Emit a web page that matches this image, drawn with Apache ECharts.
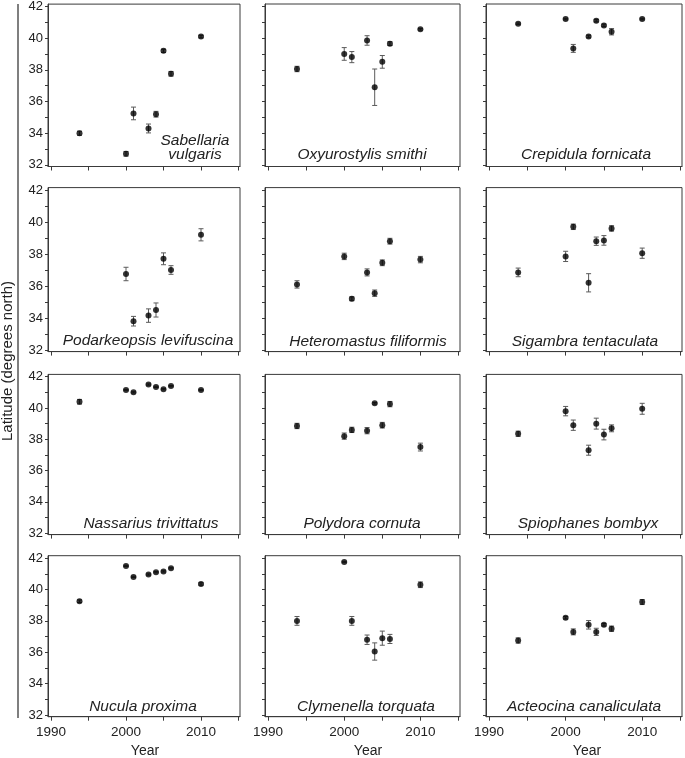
<!DOCTYPE html>
<html>
<head>
<meta charset="utf-8">
<script src="https://cdn.jsdelivr.net/npm/echarts@6/dist/echarts.min.js"></script>
<style>html,body{margin:0;padding:0;background:#fff}#c{width:685px;height:758px}</style>
</head>
<body>
<div id="c"></div>
<script>
// ---- data ----
const years = [1993.8, 2000, 2001, 2003, 2004, 2005, 2006, 2010];
const species = [
  "Sabellaria\nvulgaris", "Oxyurostylis smithi", "Crepidula fornicata",
  "Podarkeopsis levifuscina", "Heteromastus filiformis", "Sigambra tentaculata",
  "Nassarius trivittatus", "Polydora cornuta", "Spiophanes bombyx",
  "Nucula proxima", "Clymenella torquata", "Acteocina canaliculata"
];
const latSabellaria   = [34.0, 32.7, 35.25, 34.3, 35.2, 39.2, 37.75, 40.1];
const errSabellaria   = [0.13, 0.15, 0.4, 0.28, 0.18, 0.1, 0.15, 0.08];
const latOxyurostylis = [38.05, 39.0, 38.8, 39.85, 36.9, 38.5, 39.65, 40.55];
const errOxyurostylis = [0.17, 0.4, 0.35, 0.3, 1.15, 0.4, 0.12, 0.05];
const latCrepidula    = [40.9, 41.2, 39.35, 40.1, 41.1, 40.8, 40.4, 41.2];
const errCrepidula    = [0.05, 0.05, 0.25, 0.08, 0.08, 0.08, 0.2, 0.05];
const latPodarkeopsis = [null, 36.75, 33.8, 34.15, 34.5, 37.7, 37.0, 39.2];
const errPodarkeopsis = [null, 0.42, 0.3, 0.42, 0.44, 0.37, 0.27, 0.38];
const latHeteromastus = [36.1, 37.85, 35.2, 36.85, 35.55, 37.45, 38.8, 37.65];
const errHeteromastus = [0.23, 0.2, 0.12, 0.22, 0.2, 0.18, 0.18, 0.2];
const latSigambra     = [36.85, 37.85, 39.7, 36.2, 38.8, 38.85, 39.6, 38.05];
const errSigambra     = [0.27, 0.32, 0.17, 0.57, 0.26, 0.3, 0.17, 0.32];
const latNassarius    = [40.4, 41.15, 41.0, 41.5, 41.35, 41.2, 41.4, 41.15];
const errNassarius    = [0.15, 0.04, 0.04, 0.04, 0.04, 0.04, 0.04, 0.04];
const latPolydora     = [38.85, 38.2, 38.6, 38.55, 40.3, 38.9, 40.25, 37.5];
const errPolydora     = [0.17, 0.2, 0.17, 0.2, 0.05, 0.18, 0.17, 0.25];
const latSpiophanes   = [38.35, 39.8, 38.9, 37.3, 39.0, 38.3, 38.7, 39.95];
const errSpiophanes   = [0.17, 0.3, 0.33, 0.32, 0.35, 0.34, 0.22, 0.35];
const latNucula       = [39.25, 41.5, 40.8, 40.95, 41.1, 41.15, 41.35, 40.35];
const errNucula       = [0.08, 0.04, 0.04, 0.04, 0.04, 0.04, 0.04, 0.08];
const latClymenella   = [38.0, 41.75, 38.0, 36.8, 36.05, 36.9, 36.85, 40.3];
const errClymenella   = [0.28, 0.04, 0.28, 0.3, 0.55, 0.45, 0.29, 0.18];
const latActeocina    = [36.75, 38.2, 37.3, 37.75, 37.3, 37.75, 37.5, 39.2];
const errActeocina    = [0.17, 0.08, 0.19, 0.27, 0.23, 0.08, 0.17, 0.16];
const xTicks = [1990, 1995, 2000, 2005, 2010, 2015];
const xLabels = [1990, 2000, 2010];
const yTicks = [32, 33, 34, 35, 36, 37, 38, 39, 40, 41, 42];
const yLabels = [32, 34, 36, 38, 40, 42];
const yTitle = "Latitude (degrees north)";
const xTitle = "Year";

const lats = [latSabellaria, latOxyurostylis, latCrepidula, latPodarkeopsis, latHeteromastus, latSigambra,
              latNassarius, latPolydora, latSpiophanes, latNucula, latClymenella, latActeocina];
const errs = [errSabellaria, errOxyurostylis, errCrepidula, errPodarkeopsis, errHeteromastus, errSigambra,
              errNassarius, errPolydora, errSpiophanes, errNucula, errClymenella, errActeocina];

// ---- layout ----
const FONT = "'Liberation Sans', Arial, sans-serif";
const cols = [{left: 48, width: 192}, {left: 265, width: 195}, {left: 486, width: 196}];
const rows = [{top: 4, height: 162.5}, {top: 187.6, height: 164}, {top: 374.4, height: 160.2}, {top: 555.7, height: 161}];
const AX = '#3a3a3a';

const grids = [], xAxes = [], yAxes = [], series = [], graphics = [];
for (let i = 0; i < 12; i++) {
  const r = Math.floor(i / 3), c = i % 3;
  grids.push({left: cols[c].left, top: rows[r].top, width: cols[c].width, height: rows[r].height,
    show: true, borderColor: AX, borderWidth: 1, backgroundColor: 'transparent'});
  xAxes.push({type: 'value', gridIndex: i, min: 1989.6, max: 2015.2,
    axisLine: {show: true, lineStyle: {color: AX, width: 1}},
    axisTick: {show: true, length: 4, customValues: xTicks, lineStyle: {color: AX}},
    axisLabel: {show: r === 3, customValues: xLabels, margin: 9, fontSize: 13.5, color: '#222', fontFamily: FONT,
      formatter: v => String(Math.round(v))},
    splitLine: {show: false}});
  yAxes.push({type: 'value', gridIndex: i, min: 31.9, max: 42.15,
    axisLine: {show: true, lineStyle: {color: AX, width: 1}},
    axisTick: {show: true, length: 3, customValues: yTicks, lineStyle: {color: AX}},
    axisLabel: {show: c === 0, customValues: yLabels, margin: 5, fontSize: 13, color: '#222', fontFamily: FONT,
      formatter: v => String(Math.round(v))},
    splitLine: {show: false}});
  const pts = [], bars = [];
  years.forEach((y, k) => {
    if (lats[i][k] == null) return;
    pts.push([y, lats[i][k]]);
    bars.push([y, lats[i][k], errs[i][k]]);
  });
  series.push({type: 'custom', xAxisIndex: i, yAxisIndex: i, data: bars, silent: true, z: 2,
    renderItem: function (params, api) {
      const x = api.value(0), v = api.value(1), e = api.value(2);
      const t = api.coord([x, v + e]), b = api.coord([x, v - e]);
      const cw = 2.5, st = {stroke: '#5a5a5a', lineWidth: 1};
      return {type: 'group', children: [
        {type: 'line', shape: {x1: t[0], y1: t[1], x2: b[0], y2: b[1]}, style: st},
        {type: 'line', shape: {x1: t[0] - cw, y1: t[1], x2: t[0] + cw, y2: t[1]}, style: st},
        {type: 'line', shape: {x1: b[0] - cw, y1: b[1], x2: b[0] + cw, y2: b[1]}, style: st}
      ]};
    }});
  series.push({type: 'scatter', xAxisIndex: i, yAxisIndex: i, data: pts, symbol: 'circle', symbolSize: 6,
    itemStyle: {color: '#000'}, z: 3, silent: true});
}

// species names
const namePos = [
  [195, 148], [362, 155], [586, 155],
  [148, 341], [368, 342], [585, 342],
  [151, 524], [362, 524], [588, 524],
  [143, 707], [366, 707], [584, 707]
];
species.forEach((s, i) => {
  graphics.push({type: 'text', x: namePos[i][0], y: namePos[i][1], z: 10,
    style: {text: s, fill: '#222', font: 'italic 15.5px ' + FONT, align: 'center', verticalAlign: 'middle', lineHeight: 14}});
});
// y title
graphics.push({type: 'text', x: 8, y: 361, rotation: Math.PI / 2,
  style: {text: yTitle, fill: '#222', font: '15px ' + FONT, align: 'center', verticalAlign: 'middle'}});
// bracket line
graphics.push({type: 'line', shape: {x1: 18, y1: 4, x2: 18, y2: 718}, style: {stroke: '#555', lineWidth: 1.5}});
// x titles
[145, 368, 587].forEach(x => {
  graphics.push({type: 'text', x: x, y: 751,
    style: {text: xTitle, fill: '#222', font: '14px ' + FONT, align: 'center', verticalAlign: 'middle'}});
});

const chart = echarts.init(document.getElementById('c'), null, {renderer: 'canvas'});
chart.setOption({animation: false, backgroundColor: '#fff', grid: grids, xAxis: xAxes, yAxis: yAxes, series: series, graphic: graphics});
</script>
</body>
</html>
